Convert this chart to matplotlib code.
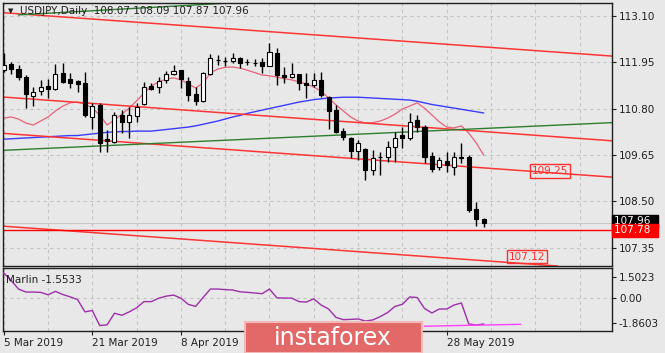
import matplotlib.pyplot as plt
from matplotlib.patches import Rectangle

# USDJPY daily, 5 Mar 2019 .. 4 Jun 2019 (bar index 0..65)
opens = [111.75, 111.90, 111.78, 111.58, 111.11, 111.23, 111.36, 111.28, 111.68, 111.52,
         111.48, 111.43, 110.59, 110.89, 110.04, 109.97, 110.64, 110.47, 110.61, 110.90,
         111.36, 111.33, 111.51, 111.65, 111.75, 111.48, 111.16, 110.99, 111.65, 112.00,
         111.98, 111.98, 112.05, 111.96, 111.93, 111.95, 111.85, 112.18, 111.63, 111.58,
         111.65, 111.43, 111.38, 111.51, 111.09, 110.76, 110.24, 110.07, 109.75, 109.80,
         109.28, 109.59, 109.60, 109.85, 110.14, 110.07, 110.52, 110.34, 109.62, 109.35,
         109.50, 109.35, 109.60, 109.60, 108.31, 108.07]
highs = [112.18, 111.95, 111.88, 111.63, 111.33, 111.51, 111.53, 111.90, 111.93, 111.68,
         111.51, 111.70, 110.94, 110.94, 110.27, 110.71, 110.76, 110.84, 110.94, 111.46,
         111.43, 111.58, 111.73, 111.88, 111.76, 111.58, 111.33, 111.70, 112.15, 112.13,
         112.08, 112.18, 112.08, 112.03, 112.03, 112.05, 112.42, 112.30, 111.83, 111.93,
         111.66, 111.68, 111.68, 111.70, 111.11, 110.89, 110.32, 110.09, 110.02, 109.82,
         109.77, 109.72, 109.99, 110.22, 110.34, 110.69, 110.64, 110.39, 109.72, 109.60,
         109.72, 109.72, 109.95, 109.65, 108.48, 108.09]
lows = [111.70, 111.65, 111.51, 110.81, 110.86, 111.13, 111.06, 111.26, 111.43, 111.31,
        111.21, 110.59, 110.29, 109.72, 109.72, 109.95, 110.19, 110.07, 110.47, 110.88,
        111.26, 111.18, 111.43, 111.63, 111.31, 110.99, 110.89, 110.96, 111.63, 111.88,
        111.85, 111.93, 111.80, 111.88, 111.85, 111.68, 111.85, 111.38, 111.43, 111.56,
        111.26, 111.06, 111.33, 111.09, 110.29, 110.19, 110.02, 109.57, 109.52, 109.03,
        109.15, 109.15, 109.47, 109.47, 109.82, 110.02, 110.22, 109.45, 109.23, 109.28,
        109.23, 109.15, 109.45, 108.24, 107.89, 107.87]
closes = [111.88, 111.78, 111.58, 111.16, 111.21, 111.33, 111.28, 111.65, 111.46, 111.44,
          111.41, 110.64, 110.86, 109.95, 109.99, 110.64, 110.47, 110.64, 110.84, 111.33,
          111.28, 111.48, 111.65, 111.73, 111.53, 111.13, 110.99, 111.68, 112.05, 111.99,
          111.97, 112.05, 111.93, 111.95, 111.92, 111.85, 112.20, 111.63, 111.58, 111.65,
          111.43, 111.38, 111.51, 111.13, 110.74, 110.22, 110.09, 109.75, 109.95, 109.28,
          109.57, 109.60, 109.85, 110.07, 110.07, 110.47, 110.34, 109.60, 109.30, 109.52,
          109.40, 109.60, 109.58, 108.28, 108.06, 107.96]

ma_fast = [110.56, 110.59, 110.54, 110.44, 110.39, 110.49, 110.59, 110.74, 110.86, 110.94,
           110.96, 110.91, 110.81, 110.64, 110.39, 110.52, 110.66, 110.81, 110.99, 111.18,
           111.36, 111.46, 111.53, 111.56, 111.51, 111.41, 111.31, 111.43, 111.68, 111.78,
           111.82, 111.83, 111.80, 111.75, 111.69, 111.63, 111.61, 111.58, 111.54, 111.51,
           111.46, 111.41, 111.33, 111.23, 111.06, 110.89, 110.74, 110.59, 110.49, 110.44,
           110.45, 110.49, 110.56, 110.66, 110.79, 110.86, 110.94, 110.81, 110.64, 110.47,
           110.34, 110.32, 110.37, 110.19, 109.95, 109.65]
ma_slow = [110.04, 110.05, 110.06, 110.07, 110.08, 110.09, 110.10, 110.11, 110.12, 110.13,
           110.13, 110.15, 110.17, 110.19, 110.21, 110.22, 110.23, 110.23, 110.24, 110.24,
           110.24, 110.26, 110.28, 110.30, 110.32, 110.34, 110.37, 110.41, 110.45, 110.49,
           110.54, 110.59, 110.63, 110.68, 110.72, 110.76, 110.80, 110.84, 110.88, 110.92,
           110.96, 110.99, 111.02, 111.04, 111.06, 111.07, 111.08, 111.08, 111.08, 111.07,
           111.06, 111.05, 111.04, 111.03, 111.02, 111.01, 110.98, 110.94, 110.90, 110.87,
           110.84, 110.81, 110.78, 110.75, 110.72, 110.69]
marlin = [1.80, 1.25, 0.62, 0.40, 0.40, 0.38, 0.20, 0.45, 0.22, 0.05,
          -0.15, -1.05, -0.95, -2.05, -2.00, -1.15, -1.30, -1.05, -0.75, -0.30,
          -0.30, -0.05, 0.10, 0.18, -0.05, -0.50, -0.65, 0.00, 0.62, 0.62,
          0.58, 0.55, 0.42, 0.38, 0.33, 0.28, 0.62, -0.02, -0.04, -0.04,
          -0.30, -0.33, -0.10, -0.55, -0.84, -1.45, -1.62, -1.60, -1.57, -1.72,
          -1.64, -1.40, -1.10, -0.65, -0.50, 0.04, 0.00, -0.80, -1.13, -0.84,
          -0.84, -0.55, -0.40, -1.94, -2.01, -1.94]

# trend lines: two anchor points (bar index, price)
red_lines = [((-0.5, 113.18), (82.4, 112.10)),
             ((-0.5, 111.09), (82.4, 110.00)),
             ((-0.5, 110.19), (82.4, 109.10)),
             ((-0.5, 107.89), (82.4, 106.80))]
green_line = ((-0.5, 109.76), (82.4, 110.45))
green_top = ([2, 34], [113.12, 113.45])
level = 107.78
marlin_trend = ([57, 70], [-2.10, -1.96])

price_ticks = [113.10, 111.95, 110.80, 109.65, 108.50, 107.35]
marlin_ticks = [1.5023, 0.00, -1.8603]
# the labels at bars 36 and 48 sit under the watermark in the source chart
date_pos = [0, 12, 24, 36, 48, 60]
date_labels = ['5 Mar 2019', '21 Mar 2019', '8 Apr 2019', '', '', '28 May 2019']

bg = '#e8e8e8'
W, H = 665, 353
fig = plt.figure(figsize=(W / 100, H / 100), dpi=100, facecolor=bg)
ax = fig.add_axes([3 / W, 87 / H, 609 / W, 263 / H], facecolor=bg)
ax2 = fig.add_axes([3 / W, 22 / H, 609 / W, 63 / H], facecolor=bg)

xlim = (-0.1, 82.4)
for a in (ax, ax2):
    a.set_xlim(*xlim)
    a.yaxis.tick_right()
    a.tick_params(axis='y', direction='out', length=3, labelsize=7.5, colors='#202020', pad=2)
    for s in a.spines.values():
        s.set_color('#202020')
        s.set_linewidth(1)
    for g in range(0, 83, 6):
        a.axvline(g, color='#c4c4c4', lw=0.8, ls=(0, (3, 3)), zorder=0)

ax.set_ylim(106.897, 113.415)
ax.set_yticks(price_ticks)
ax.set_yticklabels(['%.2f' % v for v in price_ticks])
ax.set_xticks([])
for v in price_ticks:
    ax.axhline(v, color='#c4c4c4', lw=0.8, ls=(0, (3, 3)), zorder=0)

# indicator lines
idx = list(range(len(closes)))
ax.plot(idx, ma_slow, color='#3b3bff', lw=1, zorder=2)
ax.plot(idx, ma_fast, color='#e8607a', lw=0.9, zorder=2)
for p1, p2 in red_lines:
    ax.axline(p1, p2, color='#ff3535', lw=1.1, zorder=2)
ax.axline(green_line[0], green_line[1], color='#2e7d2e', lw=1, zorder=2)
ax.plot(green_top[0], green_top[1], color='#2e7d2e', lw=1, zorder=2)
ax.axhline(level, color='#ff0000', lw=1, zorder=2)
ax.axhline(closes[-1], color='#c8c8c8', lw=0.8, zorder=1)

# candles
for i in idx:
    o, h, l, c = opens[i], highs[i], lows[i], closes[i]
    ax.vlines(i, l, h, color='black', lw=1, zorder=3)
    fc = 'white' if c >= o else 'black'
    ax.bar(i, max(abs(c - o), 0.005), bottom=min(o, c), width=0.55,
           color=fc, edgecolor='black', linewidth=0.8, zorder=4)

# price labels
ax.text(74, 109.25, '109.25', color='#ff3030', fontsize=7.5, ha='center', va='center', zorder=5,
        bbox=dict(boxstyle='square,pad=0.15', fc='none', ec='#ff3030', lw=1))
ax.text(70.9, 107.13, '107.12', color='#ff3030', fontsize=7.5, ha='center', va='center', zorder=5,
        bbox=dict(boxstyle='square,pad=0.15', fc='none', ec='#ff3030', lw=1))
ytr = ax.get_yaxis_transform()
ax.text(1.003, closes[-1] + 0.04, '%.2f  ' % closes[-1], transform=ytr, color='white', fontsize=7.5,
        va='center', ha='left', clip_on=False, zorder=6,
        bbox=dict(boxstyle='square,pad=0.15', fc='black', ec='black'))
ax.text(1.003, level, '%.2f  ' % level, transform=ytr, color='white', fontsize=7.5,
        va='center', ha='left', clip_on=False, zorder=7,
        bbox=dict(boxstyle='square,pad=0.15', fc='#ff0000', ec='#ff0000'))

fig.text(8 / W, 1 - 11 / H, '\u25bc', fontsize=5, va='center', color='#202020')
fig.text(20 / W, 1 - 11 / H, 'USDJPY,Daily  108.07 108.09 107.87 107.96', fontsize=7.5,
         va='center', color='#202020')

# Marlin panel
ax2.set_ylim(-2.45, 2.16)
ax2.plot(idx, marlin, color='#9b30a8', lw=1, zorder=3)
ax2.plot(marlin_trend[0], marlin_trend[1], color='#ff40ff', lw=1, zorder=3)
ax2.axhline(0, color='#c4c4c4', lw=0.8, ls=(0, (3, 3)), zorder=0)
ax2.set_yticks(marlin_ticks)
ax2.set_yticklabels(['1.5023', '0.00', '-1.8603'])
ax2.set_xticks(date_pos)
ax2.set_xticklabels(date_labels, ha='left')
ax2.tick_params(axis='x', direction='out', length=3, labelsize=7.5, colors='#202020', pad=2)
ax2.text(0.005, 0.76, 'Marlin -1.5533', transform=ax2.transAxes, fontsize=7.5, color='#202020')

# watermark
fig.add_artist(Rectangle((245 / W, 0), 177 / W, 31 / H, transform=fig.transFigure,
                         fc='#e36868', ec='#f2b9b9', lw=1.5, zorder=10))
fig.text(333 / W, 15 / H, 'instaforex', color='white', fontsize=17, ha='center', va='center', zorder=11)

fig.savefig('out.png', dpi=100, facecolor=bg)
